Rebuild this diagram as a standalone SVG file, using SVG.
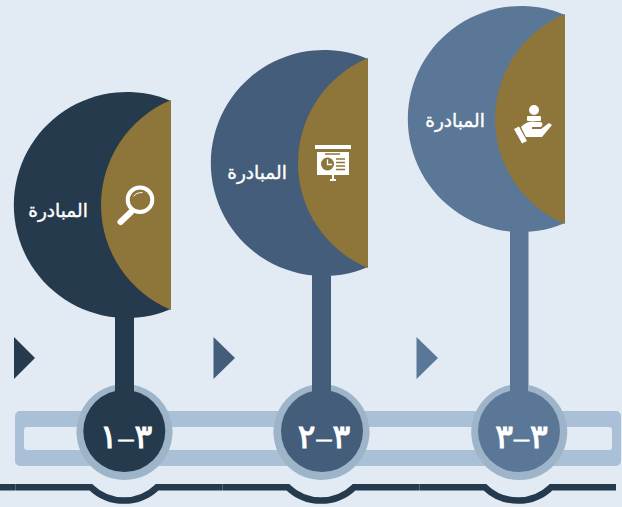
<svg xmlns="http://www.w3.org/2000/svg" width="622" height="507" viewBox="0 0 622 507">
<style>
.tan{fill:#8e753a}
.c1{fill:#253a4d}
.c2{fill:#435d7a}
.c3{fill:#5b7797}
.ring{fill:#9db4c9}
.lbl{font-family:"DejaVu Sans","Noto Sans",sans-serif;font-weight:400;font-size:18.500px;fill:#fff;stroke:#fff;stroke-width:.4;text-anchor:middle}
.num{font-family:"DejaVu Sans","Noto Sans",sans-serif;font-weight:400;font-size:33px;fill:#fff;stroke:#fff;stroke-width:1.100;text-anchor:middle}
.dash{font-size:17px;stroke-width:.7}
.ico{fill:#fff}
.icl{fill:none;stroke:#fff;stroke-linecap:round}
</style>
<rect width="622" height="507" fill="#e2ebf4"/>
<g id="connectors">
<path fill="#a9c0d6" fill-rule="evenodd" d="M20 411H616a5 5 0 0 1 5 5V461a5 5 0 0 1-5 5H20a5 5 0 0 1-5-5V416a5 5 0 0 1 5-5ZM27 427a3 3 0 0 0-3 3V447a3 3 0 0 0 3 3H609a3 3 0 0 0 3-3V430a3 3 0 0 0-3-3Z"/>
<path fill="none" stroke="#253a4d" stroke-width="6.5" d="M0 487.300H91C100 496 110 500.500 124 500.500S148 496 157 487.300H288C297 496 307 500.500 321 500.500S345 496 354 487.300H485C494 496 504 500.500 518 500.500S542 496 551 487.300H616"/>
<path stroke="#e2ebf4" stroke-width="0.5" stroke-opacity="0.5" d="M15.500 484V491M222.500 484V491M419.500 484V491"/>
<rect class="c1" x="115" y="316" width="19" height="80"/>
<rect class="c2" x="312" y="274" width="19" height="122"/>
<rect class="c3" x="510" y="230" width="18.500" height="166"/>
</g>
<g id="node-1">
<path class="c1" d="M14 337L35 358L14 379Z"/>
<path class="c1" d="M171 101A113 113 0 1 0 171 309Z"/>
<path class="tan" d="M171 100A113.750 113.750 0 0 0 171 310Z"/>
<text class="lbl" x="58" y="217">المبادرة</text>
<circle class="icl" cx="140" cy="199.700" r="12.300" stroke-width="4"/>
<path class="icl" d="M131 212L120.500 222" stroke-width="6"/>
<path class="icl" d="M134 196Q136 192.500 142 192.500" stroke-width="1"/>
<path class="ring" d="M115 385A48 48 0 1 0 134 385V396H115Z"/>
<circle class="c1" cx="124.300" cy="431" r="41"/>
<text class="num" x="126" y="448" direction="rtl">٣<tspan class="dash" dy="-3">—</tspan><tspan dy="3">١</tspan></text>
</g>
<g id="node-2">
<path class="c2" d="M213.500 337L235 358L213.500 379Z"/>
<path class="c2" d="M368 59A113 113 0 1 0 368 267Z"/>
<path class="tan" d="M368 58A113.750 113.750 0 0 0 368 268Z"/>
<text class="lbl" x="257" y="179">المبادرة</text>
<rect class="ico" x="315" y="145" width="36" height="4"/>
<rect class="ico" x="317" y="152" width="32" height="23"/>
<rect class="ico" x="332" y="175" width="2" height="4"/>
<rect class="ico" x="330" y="179" width="6" height="2"/>
<path fill="none" stroke="#8e753a" stroke-width="1.500" d="M325 154H340"/>
<circle cx="327.500" cy="164" r="6.500" class="tan"/>
<path fill="none" stroke="#fff" stroke-width="1.300" d="M327.500 159.500V164.500H332"/>
<path fill="none" stroke="#8e753a" stroke-width="1.500" d="M336 159H345M336 162.500H345M336 166H345M336 169.500H345"/>
<path class="ring" d="M312 385A48 48 0 1 0 331 385V396H312Z"/>
<circle class="c2" cx="322" cy="431" r="41"/>
<text class="num" x="324" y="448" direction="rtl">٣<tspan class="dash" dy="-3">—</tspan><tspan dy="3">٢</tspan></text>
</g>
<g id="node-3">
<path class="c3" d="M416.500 337L438 358L416.500 379Z"/>
<path class="c3" d="M565 15A113 113 0 1 0 565 223Z"/>
<path class="tan" d="M565 14A113.750 113.750 0 0 0 565 224Z"/>
<text class="lbl" x="455" y="127">المبادرة</text>
<circle class="ico" cx="534" cy="110" r="5"/>
<rect class="ico" x="527" y="116" width="14" height="5" rx="1"/>
<path class="ico" d="M514 129L519 126.500L527 141L522 143.500Z"/>
<path class="ico" d="M521 127Q528 120 537 122H541Q544 124 541 127H532V129H541L549 123L552 125L542 137H526Z"/>
<path class="ring" d="M510 385A48 48 0 1 0 528.500 385V396H510Z"/>
<circle class="c3" cx="519" cy="431" r="41"/>
<text class="num" x="521.500" y="448" direction="rtl">٣<tspan class="dash" dy="-3">—</tspan><tspan dy="3">٣</tspan></text>
</g>
</svg>
